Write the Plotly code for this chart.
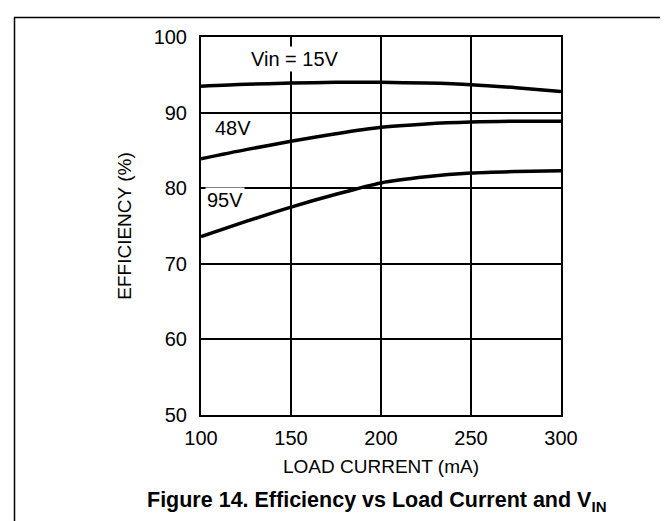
import plotly.graph_objects as go

load_current = [100, 125, 150, 175, 200, 225, 250, 275, 300]
eff_15v = [93.5, 93.75, 93.9, 94.0, 94.0, 93.9, 93.7, 93.3, 92.8]
eff_48v = [83.9, 85.1, 86.2, 87.2, 88.05, 88.5, 88.75, 88.85, 88.85]
eff_95v = [73.6, 75.6, 77.5, 79.2, 80.7, 81.5, 82.0, 82.2, 82.3]

x_ticks = [100, 150, 200, 250, 300]
y_ticks = [50, 60, 70, 80, 90, 100]

series = [("Vin = 15V", eff_15v), ("48V", eff_48v), ("95V", eff_95v)]
labels = [("Vin = 15V", 152.2, 97.15), ("48V", 117.8, 87.9), ("95V", 113.6, 78.4)]

FONT = "Liberation Sans, Arial, Helvetica, sans-serif"

fig = go.Figure()
for name, vals in series:
    fig.add_trace(go.Scatter(x=load_current, y=vals, mode="lines", name=name,
                             line=dict(color="black", width=3.5, shape="spline", smoothing=0.8),
                             showlegend=False, hoverinfo="skip"))

for text, xv, yv in labels:
    fig.add_annotation(x=xv, y=yv, text=text, showarrow=False,
                       font=dict(family=FONT, size=20, color="black"),
                       bgcolor="white", borderpad=1)

# figure caption
fig.add_annotation(xref="paper", yref="paper", x=0.49, y=-0.228, yanchor="middle",
                   text="<b>Figure 14. Efficiency vs Load Current and V<sub>IN</sub></b>",
                   showarrow=False, font=dict(family=FONT, size=21.5, color="black"))

# outer frame (top and left edges)
W, H = 668, 521
L, R, T, B = 193, 115, 29, 114
pw, ph = W - L - R, H - T - B
def px(xp): return (xp - L) / pw
def py(yp): return (H - B - yp) / ph
fig.add_shape(type="line", xref="paper", yref="paper", x0=px(6), x1=px(668), y0=py(9.5), y1=py(9.5),
              line=dict(color="black", width=1.5))
fig.add_shape(type="line", xref="paper", yref="paper", x0=px(6.5), x1=px(6.5), y0=py(9.5), y1=py(521),
              line=dict(color="black", width=1.5))

fig.update_xaxes(range=[100, 300], tickvals=x_ticks, showgrid=True, gridcolor="black", gridwidth=1.5,
                 showline=True, linecolor="black", linewidth=2, mirror=True, zeroline=False,
                 ticks="", ticklabelstandoff=4,
                 tickfont=dict(family=FONT, size=20, color="black"),
                 title=dict(text="LOAD CURRENT (mA)", font=dict(family=FONT, size=19, color="black"), standoff=12))
fig.update_yaxes(range=[50, 100], tickvals=y_ticks, showgrid=True, gridcolor="black", gridwidth=1.5,
                 showline=True, linecolor="black", linewidth=2, mirror=True, zeroline=False,
                 ticks="", ticklabelstandoff=8,
                 tickfont=dict(family=FONT, size=20, color="black"),
                 title=dict(text="EFFICIENCY (%)", font=dict(family=FONT, size=19, color="black"), standoff=17))

fig.update_layout(width=W, height=H, margin=dict(l=L, r=R, t=T, b=B),
                  paper_bgcolor="white", plot_bgcolor="white", showlegend=False)

fig.write_html("out.html")
